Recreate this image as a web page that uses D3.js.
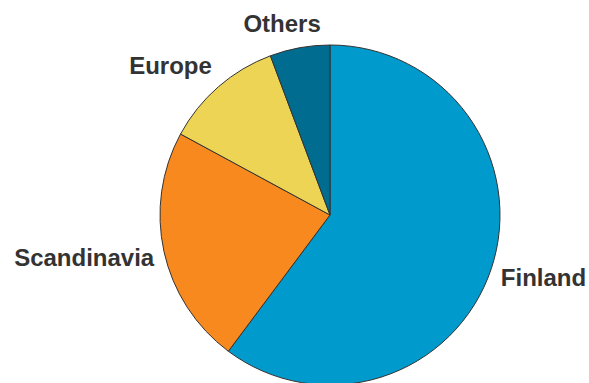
<!DOCTYPE html>
<html>
<head>
<meta charset="utf-8">
<script src="https://cdn.jsdelivr.net/npm/d3@7"></script>
<style>
  html, body { margin: 0; padding: 0; background: #fff; }
  svg { display: block; }
  .label { font-family: "Liberation Sans", Arial, sans-serif; font-weight: bold; font-size: 24px; fill: #333; }
</style>
</head>
<body>
<svg id="chart" width="589" height="383"></svg>
<script>
// Share of customers by region (%)
const regions = ["Finland", "Scandinavia", "Europe", "Others"];
const shares = [60.2, 22.7, 11.4, 5.7];
const sliceColors = ["#009acd", "#f7891f", "#edd455", "#006d90"];

const width = 589, height = 383;
const cx = 330, cy = 215, radius = 170, labelRadius = 180;

const svg = d3.select("#chart");
const g = svg.append("g").attr("transform", `translate(${cx},${cy})`);

const pie = d3.pie().sort(null).value(d => d.value);
const arcs = pie(regions.map((name, i) => ({ name, value: shares[i], color: sliceColors[i] })));

const arc = d3.arc().innerRadius(0).outerRadius(radius);
const labelArc = d3.arc().innerRadius(labelRadius).outerRadius(labelRadius);

g.selectAll("path.slice")
  .data(arcs)
  .join("path")
  .attr("class", "slice")
  .attr("d", arc)
  .attr("fill", d => d.data.color)
  .attr("stroke", "#333")
  .attr("stroke-width", 1)
  .attr("stroke-linejoin", "round");

// Labels sit just outside the rim: the text box is pushed away from the
// anchor point on the label circle, fully sideways once the slice points
// clearly left or right, partially near the top.
const boxHeight = 30;
const clamp = v => Math.max(-1, Math.min(1, v));
g.selectAll("text.label")
  .data(arcs)
  .join("text")
  .attr("class", "label")
  .attr("text-anchor", "middle")
  .attr("dy", "0.36em")
  .text(d => d.data.name)
  .each(function (d) {
    const a = (d.startAngle + d.endAngle) / 2;
    const [px, py] = labelArc.centroid(d);
    const w = this.getComputedTextLength();
    const fx = clamp(2.3 * Math.sin(a));
    const fy = clamp(-1.2 * Math.cos(a));
    d3.select(this)
      .attr("x", px + fx * w / 2)
      .attr("y", py + fy * boxHeight / 2);
  });
</script>
</body>
</html>
